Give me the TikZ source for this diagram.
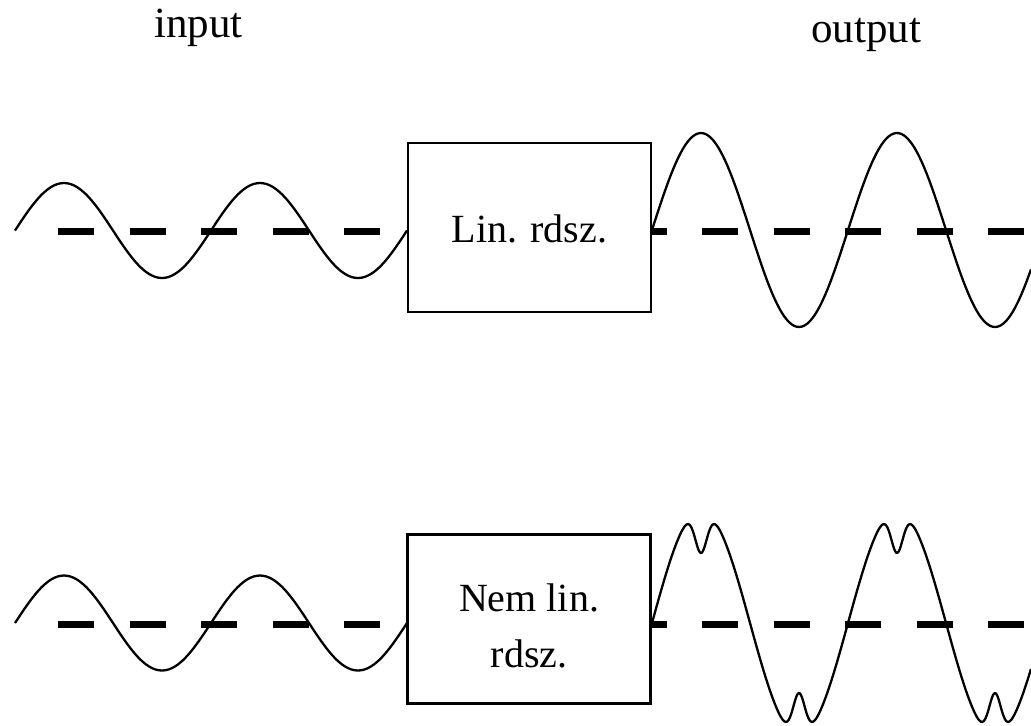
\documentclass[tikz,border=0pt]{standalone}
\usepackage{fontspec}
\setmainfont{Liberation Serif}
\usetikzlibrary{positioning}

\begin{document}
\begin{tikzpicture}[
    x=0.5pt, y=-0.5pt,
    wave/.style={black, line width=1.15pt, line join=round},
    zeroline/.style={black, line width=3.5pt, dash pattern=on 18pt off 17.75pt},
    sysbox/.style={draw, line width=1.25pt, minimum width=121.5pt, minimum height=84.5pt,
                   inner sep=0pt},
    boxtext/.style={inner sep=0pt, align=center, font=\fontsize{20}{28}\selectfont},
    head/.style={anchor=base, font=\fontsize{21.5}{26}\selectfont},
  ]
  \useasboundingbox (0,0) rectangle (1031,725);

  % headings
  \node[head] (inlabel) at (198.5,37) {input};
  \node[head] (outlabel) at (866,42) {output};

  % the two systems
  \node[sysbox] (lin) at (529.5,227.5) {};
  \node[boxtext] (lintext) at ([yshift=-0.5pt]lin.center) {Lin. rdsz.};
  \node[sysbox] (nonlin) at (529,619) {};
  \node[boxtext] (nonlintext) at ([yshift=-3.25pt]nonlin.center) {Nem lin.\\rdsz.};

  % zero lines left and right of each box
  \foreach \yc in {231,624} {
    \draw[zeroline] (58,\yc) -- (380,\yc);
    \draw[zeroline, dash phase=10.75pt] (652,\yc) -- (1031,\yc);
  }

  % input sines (same for both rows)
  \foreach \yc in {230.5,623}
    \draw[wave] plot[domain=0:720, samples=121, smooth, variable=\t]
      ({15+\t/360*196}, {\yc-47.5*sin(\t)});

  % linear output: amplified sine
  \draw[wave] plot[domain=0:696, samples=150, smooth, variable=\t]
    ({652+\t/360*196}, {230-97*sin(\t)});

  % non-linear output: distorted peaks
  \draw[wave] plot[domain=0:696, samples=350, variable=\t]
    ({652+\t/360*196}, {623-sin(\t)*(113.2-43.2*exp(-cos(\t)*cos(\t)/0.0763))});
\end{tikzpicture}
\end{document}
